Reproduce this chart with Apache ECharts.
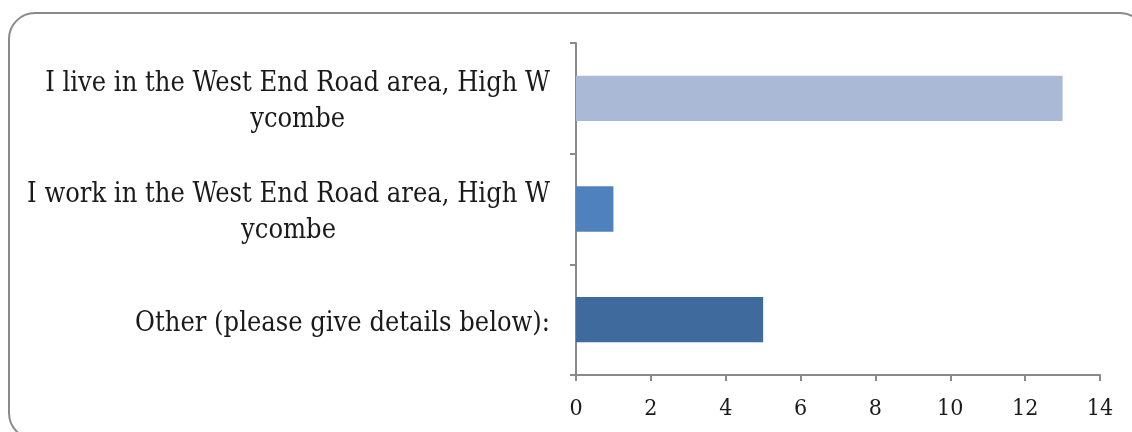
<!DOCTYPE html>
<html>
<head>
<meta charset="utf-8">
<style>
html,body{margin:0;padding:0;background:#fff;}
#chart{width:1132px;height:432px;}
</style>
<script src="https://cdn.jsdelivr.net/npm/echarts@6/dist/echarts.min.js"></script>
</head>
<body>
<div id="chart"></div>
<script>
const categories = [
  "I live in the West End Road area, High W\nycombe",
  "I work in the West End Road area, High W\nycombe",
  "Other (please give details below):"
];
const values = [13, 1, 5];
const xTicks = [0, 2, 4, 6, 8, 10, 12, 14];
const barColors = ["#AAB9D6", "#4F81BD", "#3F6A9E"];

const FONT = "DejaVu Serif Condensed";
const chart = echarts.init(document.getElementById('chart'), null, {renderer: 'canvas'});
const option = {
  animation: false,
  backgroundColor: '#ffffff',
  graphic: [{
    type: 'rect',
    shape: {x: 9, y: 13, width: 1137, height: 426, r: 26},
    style: {fill: 'none', stroke: '#8A8A8A', lineWidth: 2},
    silent: true,
    z: -1
  }],
  grid: {left: 576, right: 32, top: 43, bottom: 57, containLabel: false},
  xAxis: {
    type: 'value',
    min: xTicks[0],
    max: xTicks[xTicks.length - 1],
    interval: xTicks[1] - xTicks[0],
    splitLine: {show: false},
    axisLine: {show: true, lineStyle: {color: '#8A8A8A', width: 2}},
    axisTick: {show: true, length: 6, lineStyle: {color: '#8A8A8A', width: 2}},
    axisLabel: {color: '#1a1a1a', fontFamily: FONT, fontSize: 23, margin: 23}
  },
  yAxis: {
    type: 'category',
    inverse: true,
    data: categories,
    axisLine: {show: true, lineStyle: {color: '#8A8A8A', width: 2}},
    axisTick: {show: true, length: 6, alignWithLabel: false, lineStyle: {color: '#8A8A8A', width: 2}},
    axisLabel: {
      margin: 26,
      align: 'right',
      padding: [8, 0, 0, 0],
      formatter: function (v) {
        return v.split('\n').map(function (s) { return '{c|' + s + '}'; }).join('\n');
      },
      rich: {
        c: {align: 'center', color: '#1a1a1a', fontFamily: FONT, fontSize: 27, lineHeight: 36}
      }
    }
  },
  series: [{
    type: 'bar',
    barWidth: '41%',
    data: values.map(function (v, i) { return {value: v, itemStyle: {color: barColors[i]}}; })
  }]
};
chart.setOption(option);
</script>
</body>
</html>
